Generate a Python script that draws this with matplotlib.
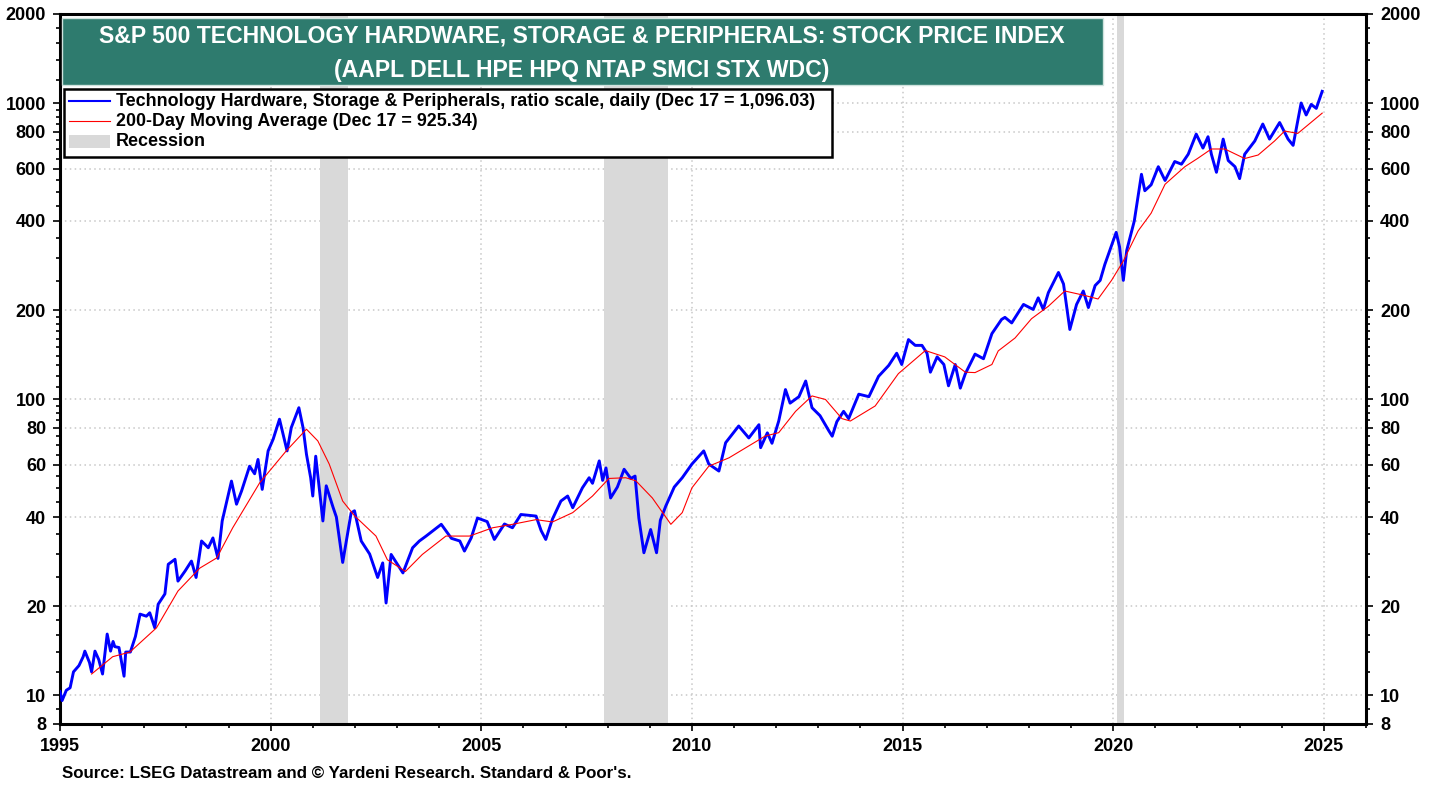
import numpy as np
import matplotlib
matplotlib.use("Agg")
import matplotlib.pyplot as plt
from matplotlib.patches import Rectangle
from matplotlib.lines import Line2D

plt.rcParams["font.family"] = ["Liberation Sans", "DejaVu Sans"]
plt.rcParams["font.weight"] = "bold"

# index (decimal year, value)
idx_years = [
    1995.00, 1995.05, 1995.15, 1995.24, 1995.32, 1995.45, 1995.55, 1995.59, 1995.70, 1995.75,
    1995.83, 1995.92, 1996.01, 1996.12, 1996.20, 1996.26, 1996.30, 1996.40, 1996.52, 1996.56,
    1996.67, 1996.79, 1996.90, 1997.05, 1997.13, 1997.25, 1997.33, 1997.49, 1997.57, 1997.73,
    1997.80, 1997.97, 1998.12, 1998.23, 1998.36, 1998.52, 1998.63, 1998.75, 1998.85, 1999.07,
    1999.19, 1999.31, 1999.50, 1999.62, 1999.70, 1999.80, 1999.94, 2000.06, 2000.21, 2000.39,
    2000.49, 2000.67, 2000.77, 2000.85, 2000.95, 2001.00, 2001.07, 2001.24, 2001.32, 2001.48,
    2001.56, 2001.71, 2001.91, 2001.99, 2002.15, 2002.35, 2002.54, 2002.66, 2002.74, 2002.86,
    2003.14, 2003.37, 2003.53, 2003.69, 2004.05, 2004.29, 2004.49, 2004.60, 2004.76, 2004.91,
    2005.14, 2005.31, 2005.55, 2005.74, 2005.94, 2006.30, 2006.42, 2006.53, 2006.69, 2006.89,
    2007.05, 2007.17, 2007.40, 2007.56, 2007.64, 2007.80, 2007.88, 2007.96, 2008.07, 2008.23,
    2008.39, 2008.55, 2008.65, 2008.74, 2008.86, 2009.02, 2009.16, 2009.25, 2009.38, 2009.58,
    2009.77, 2010.00, 2010.28, 2010.40, 2010.64, 2010.80, 2011.11, 2011.35, 2011.59, 2011.63,
    2011.79, 2011.90, 2012.06, 2012.22, 2012.33, 2012.54, 2012.70, 2012.85, 2013.04, 2013.25,
    2013.33, 2013.44, 2013.60, 2013.72, 2013.96, 2014.20, 2014.43, 2014.67, 2014.86, 2014.98,
    2015.14, 2015.30, 2015.46, 2015.58, 2015.66, 2015.82, 2015.98, 2016.09, 2016.25, 2016.37,
    2016.49, 2016.72, 2016.92, 2017.12, 2017.35, 2017.43, 2017.59, 2017.87, 2018.10, 2018.22,
    2018.34, 2018.46, 2018.70, 2018.82, 2018.97, 2019.13, 2019.29, 2019.41, 2019.57, 2019.69,
    2019.80, 2020.07, 2020.15, 2020.24, 2020.32, 2020.50, 2020.67, 2020.75, 2020.90, 2021.07,
    2021.23, 2021.46, 2021.62, 2021.78, 2021.97, 2022.13, 2022.25, 2022.33, 2022.45, 2022.61,
    2022.73, 2022.89, 2023.00, 2023.12, 2023.36, 2023.55, 2023.71, 2023.95, 2024.15, 2024.27,
    2024.46, 2024.58, 2024.70, 2024.82, 2024.94, 2024.96,
]
idx_values = [
    10.3, 9.6, 10.4, 10.6, 12.0, 12.6, 13.5, 14.1, 12.9, 12.0,
    14.1, 13.2, 11.8, 16.1, 14.1, 15.2, 14.6, 14.5, 11.6, 14.0,
    14.0, 15.8, 18.8, 18.5, 19.0, 16.9, 20.3, 22.0, 27.7, 28.8,
    24.3, 26.3, 28.4, 25.0, 33.2, 31.5, 34.0, 29.0, 38.8, 52.9,
    44.2, 49.0, 59.4, 56.0, 62.6, 49.6, 66.9, 73.3, 85.6, 66.9,
    80.2, 93.6, 80.0, 65.2, 54.3, 47.1, 64.2, 38.8, 51.0, 43.2,
    40.0, 28.1, 41.3, 42.0, 33.2, 30.0, 25.0, 28.0, 20.5, 29.9,
    25.9, 31.5, 33.2, 34.5, 37.8, 33.9, 33.2, 30.7, 34.0, 39.7,
    38.6, 33.6, 37.9, 36.8, 40.8, 40.3, 36.0, 33.6, 39.4, 45.3,
    47.1, 43.0, 50.2, 54.3, 52.0, 61.9, 53.2, 58.6, 46.4, 50.5,
    58.0, 54.0, 55.0, 39.7, 30.3, 36.3, 30.3, 39.0, 43.6, 50.5,
    54.3, 60.4, 66.9, 60.4, 57.2, 71.3, 81.2, 74.0, 82.0, 68.6,
    77.0, 71.0, 84.4, 107.8, 97.0, 102.0, 115.2, 93.6, 88.0, 78.2,
    75.0, 84.0, 91.0, 86.0, 104.0, 102.0, 119.5, 130.0, 143.0, 131.0,
    159.0, 152.0, 152.0, 143.0, 123.4, 139.0, 131.0, 111.0, 131.0, 109.0,
    122.0, 142.0, 137.0, 166.5, 186.0, 189.0, 181.0, 209.0, 201.0, 220.0,
    201.0, 229.0, 268.0, 245.0, 172.0, 209.0, 232.0, 204.0, 242.0, 252.0,
    285.0, 366.0, 327.0, 252.0, 318.0, 400.0, 575.0, 506.0, 530.0, 610.0,
    548.0, 635.0, 622.0, 672.0, 786.0, 705.0, 770.0, 672.0, 584.0, 756.0,
    640.0, 610.0, 556.0, 672.0, 745.0, 850.0, 756.0, 860.0, 756.0, 720.0,
    1001.0, 912.0, 990.0, 960.0, 1075.0, 1096.03,
]

# 200-day moving average
ma_years = [
    1995.75, 1996.25, 1996.66, 1997.29, 1997.80, 1998.32, 1998.72, 1999.10, 1999.74, 2000.37,
    2000.85, 2001.12, 2001.39, 2001.71, 2001.99, 2002.50, 2002.77, 2003.20, 2003.60, 2004.16,
    2004.72, 2005.27, 2005.74, 2006.30, 2006.69, 2007.17, 2007.64, 2008.03, 2008.43, 2008.67,
    2009.06, 2009.50, 2009.77, 2010.00, 2010.40, 2010.88, 2011.74, 2012.06, 2012.46, 2012.85,
    2013.17, 2013.56, 2013.76, 2014.35, 2014.90, 2015.54, 2016.00, 2016.49, 2016.72, 2017.12,
    2017.27, 2017.67, 2018.06, 2018.46, 2018.85, 2019.33, 2019.64, 2019.96, 2020.24, 2020.59,
    2020.90, 2021.23, 2021.70, 2022.00, 2022.33, 2022.65, 2023.12, 2023.44, 2023.83, 2024.07,
    2024.38, 2024.94, 2024.96,
]
ma_values = [
    11.8, 13.5, 14.0, 16.9, 22.5, 26.9, 29.1, 36.8, 52.2, 66.9,
    79.2, 72.3, 60.4, 45.3, 40.4, 34.5, 28.7, 26.2, 29.9, 34.5,
    34.5, 36.8, 37.8, 39.2, 38.5, 41.4, 47.1, 54.0, 54.3, 53.0,
    46.4, 37.8, 41.4, 50.2, 59.4, 63.4, 75.1, 77.1, 91.0, 102.6,
    99.8, 86.0, 84.4, 94.9, 122.0, 146.0, 139.0, 123.4, 123.0, 131.0,
    145.6, 161.0, 187.0, 206.0, 232.0, 224.0, 218.0, 252.0, 293.0, 370.0,
    425.0, 532.0, 610.0, 650.0, 700.0, 700.0, 650.0, 668.0, 745.0, 805.0,
    790.0, 920.0, 925.34,
]

recessions = [(2001.17, 2001.83), (2007.92, 2009.42), (2020.08, 2020.25)]

y_major = [8, 10, 20, 40, 60, 80, 100, 200, 400, 600, 800, 1000, 2000]
y_minor = ([9] + list(range(12, 20, 2)) + list(range(25, 100, 5)) + list(range(110, 200, 10))
           + list(range(250, 1000, 50)) + list(range(1200, 2000, 200)))

title1 = "S&P 500 TECHNOLOGY HARDWARE, STORAGE & PERIPHERALS: STOCK PRICE INDEX"
title2 = "(AAPL DELL HPE HPQ NTAP SMCI STX WDC)"
leg_labels = [
    "Technology Hardware, Storage & Peripherals, ratio scale, daily (Dec 17 = 1,096.03)",
    "200-Day Moving Average (Dec 17 = 925.34)",
    "Recession",
]
source = "Source: LSEG Datastream and \u00a9 Yardeni Research. Standard & Poor's."

W, H = 1438, 787
fig = plt.figure(figsize=(W / 100, H / 100), dpi=100)


def fx(px):
    return px / W


def fy(py):
    return 1 - py / H


ax = fig.add_axes([fx(60), fy(724), fx(1366) - fx(60), fy(14) - fy(724)])

grid_kw = dict(color="#c8c8c8", linestyle=(0, (1, 2.2)), linewidth=1.1, zorder=0)
for yv in y_major[1:-1]:
    ax.axhline(yv, **grid_kw)
for xv in range(2000, 2026, 5):
    ax.axvline(xv, **grid_kw)

for a, b in recessions:
    ax.axvspan(a, b, color="#d9d9d9", lw=0, zorder=1)

ax.plot(idx_years, idx_values, color="#0000ff", lw=2.1, zorder=3)
ax.plot(ma_years, ma_values, color="#ff0000", lw=0.8, zorder=4)

ax.set_yscale("log")
ax.set_ylim(8, 2000)
ax.set_xlim(1995, 2026)
ax.set_yticks(y_major)
ax.set_yticklabels([str(v) for v in y_major])
ax.set_yticks(y_minor, minor=True)
ax.yaxis.set_minor_formatter(matplotlib.ticker.NullFormatter())
ax.set_xticks(range(1995, 2026, 5))
ax.set_xticks(range(1995, 2027), minor=True)

ax.tick_params(which="both", direction="out", left=True, right=True,
               labelleft=True, labelright=True, top=False, width=1.2)
ax.tick_params(which="major", length=5, labelsize=13, pad=5)
ax.tick_params(which="minor", length=3)
for lab in ax.get_xticklabels() + ax.get_yticklabels():
    lab.set_fontweight("bold")
for sp in ax.spines.values():
    sp.set_linewidth(2.2)

# title box
fig.patches.append(Rectangle((fx(62), fy(85)), fx(1103) - fx(62), fy(18) - fy(85),
                             transform=fig.transFigure, facecolor="#2e7b6e",
                             edgecolor="#cfe3de", lw=1, zorder=5))
fig.text(fx(582), fy(36), title1, color="white", fontsize=16.6, fontweight="bold",
         ha="center", va="center", zorder=6)
fig.text(fx(582), fy(70), title2, color="white", fontsize=16.6, fontweight="bold",
         ha="center", va="center", zorder=6)

# legend box
fig.patches.append(Rectangle((fx(64), fy(157)), fx(832) - fx(64), fy(89) - fy(157),
                             transform=fig.transFigure, facecolor="white",
                             edgecolor="black", lw=1.8, zorder=5))
rows = [101, 121, 141]
fig.lines.append(Line2D([fx(69), fx(110)], [fy(rows[0])] * 2, transform=fig.transFigure,
                        color="#0000ff", lw=1.5, zorder=6))
fig.lines.append(Line2D([fx(69), fx(110)], [fy(rows[1])] * 2, transform=fig.transFigure,
                        color="#ff0000", lw=0.8, zorder=6))
fig.patches.append(Rectangle((fx(69), fy(148)), fx(110) - fx(69), fy(135) - fy(148),
                             transform=fig.transFigure, facecolor="#d9d9d9", lw=0, zorder=6))
for r, lab in zip(rows, leg_labels):
    fig.text(fx(116), fy(r), lab, fontsize=12.85, fontweight="bold", ha="left",
             va="center", zorder=7)

fig.text(fx(62), fy(773), source, fontsize=12.2, fontweight="bold", ha="left", va="center")

fig.savefig("out.png", dpi=100)
